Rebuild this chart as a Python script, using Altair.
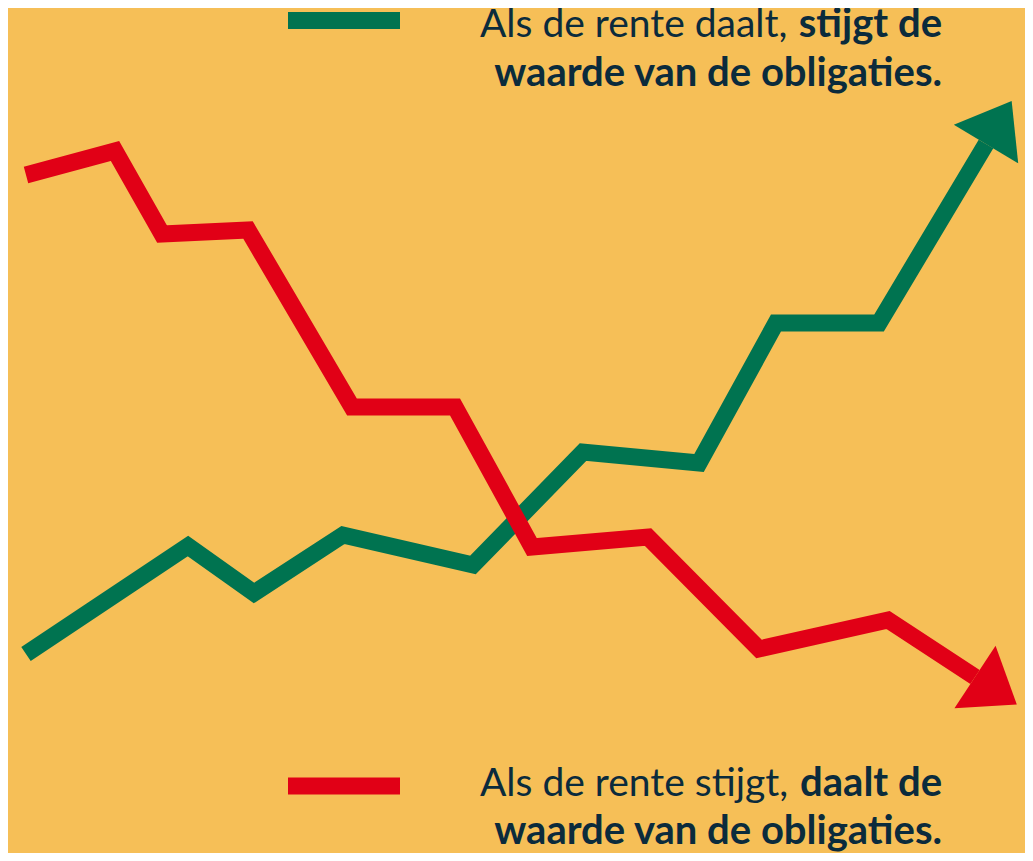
import math
import altair as alt
import pandas as pd

# ---- data (x = time position, y = value) ----
red_x = [26, 115, 162, 248, 352, 455, 532, 648, 759, 888, 975]
red_y = [686, 710, 627, 631, 454, 454, 314, 324, 212, 241, 184]
green_x = [26, 188, 254, 343, 473, 583, 699, 776, 879, 986]
green_y = [207, 315, 268, 326, 296, 409, 398, 538, 538, 717]

series = ["daalt", "stijgt"]
colors = ["#007350", "#E10016"]

top_regular = "Als de rente daalt,"
top_bold_1 = "stijgt de"
top_bold_2 = "waarde van de obligaties."
bottom_regular = "Als de rente stijgt,"
bottom_bold_1 = "daalt de"
bottom_bold_2 = "waarde van de obligaties."

BG = "#F6BF57"
NAVY = "#0B2B3C"
FONT = "Lato"
FS_REG = 39
FS_BOLD = 40

green_df = pd.DataFrame({"x": green_x, "y": green_y, "order": range(len(green_x)), "s": series[0]})
red_df = pd.DataFrame({"x": red_x, "y": red_y, "order": range(len(red_x)), "s": series[1]})


def head(xs, ys, name):
    dx = xs[-1] - xs[-2]
    dy = ys[-1] - ys[-2]
    ang = math.degrees(math.atan2(dx, dy)) % 360
    return {"x": xs[-1], "y": ys[-1], "angle": ang, "s": name}


heads_df = pd.DataFrame([head(green_x, green_y, series[0]), head(red_x, red_y, series[1])])

W, H = 1017, 845
xs = alt.Scale(domain=[8, 8 + W], nice=False, zero=False)
ys = alt.Scale(domain=[8, 8 + H], nice=False, zero=False)
cs = alt.Scale(domain=series, range=colors)

X = lambda: alt.X("x:Q", scale=xs, axis=None)
Y = lambda: alt.Y("y:Q", scale=ys, axis=None)
C = lambda: alt.Color("s:N", scale=cs, legend=None)

line_kw = dict(strokeWidth=17, strokeJoin="miter", strokeCap="butt", strokeMiterLimit=10)

green_line = alt.Chart(green_df).mark_line(**line_kw).encode(x=X(), y=Y(), color=C(), order="order:Q")
red_line = alt.Chart(red_df).mark_line(**line_kw).encode(x=X(), y=Y(), color=C(), order="order:Q")

arrow_path = "M0,-1L0.75,0L-0.75,0Z"
heads = alt.Chart(heads_df).mark_point(
    shape=arrow_path, size=10000, filled=True, opacity=1, strokeWidth=0
).encode(x=X(), y=Y(), color=C(), angle=alt.Angle("angle:Q", scale=None))


def swatch(color, yv):
    return alt.Chart(pd.DataFrame({"a": [0]})).mark_rule(
        color=color, strokeWidth=17, strokeCap="butt"
    ).encode(
        x=alt.datum(288, scale=xs), x2=alt.datum(400), y=alt.datum(yv, scale=ys)
    )


def txt(text, xv, yv, align, weight, fs):
    return alt.Chart(pd.DataFrame({"a": [0]})).mark_text(
        text=text, align=align, baseline="alphabetic", font=FONT, fontSize=fs,
        fontWeight=weight, color=NAVY
    ).encode(x=alt.datum(xv, scale=xs), y=alt.datum(yv, scale=ys))


texts = [
    swatch(colors[0], 840.5),
    swatch(colors[1], 75),
    txt(top_regular, 480, 824, "left", "normal", FS_REG),
    txt(top_bold_1, 942, 824, "right", "bold", FS_BOLD),
    txt(top_bold_2, 942, 775, "right", "bold", FS_BOLD),
    txt(bottom_regular, 480, 65, "left", "normal", FS_REG),
    txt(bottom_bold_1, 942, 65, "right", "bold", FS_BOLD),
    txt(bottom_bold_2, 942, 17, "right", "bold", FS_BOLD),
]

chart = alt.layer(green_line, red_line, heads, *texts).properties(
    width=W, height=H, padding=0, autosize=alt.AutoSizeParams(type="none"),
    background=BG
).configure_view(stroke=None)

chart.save("out.html", embed_options={"renderer": "svg", "actions": False})
